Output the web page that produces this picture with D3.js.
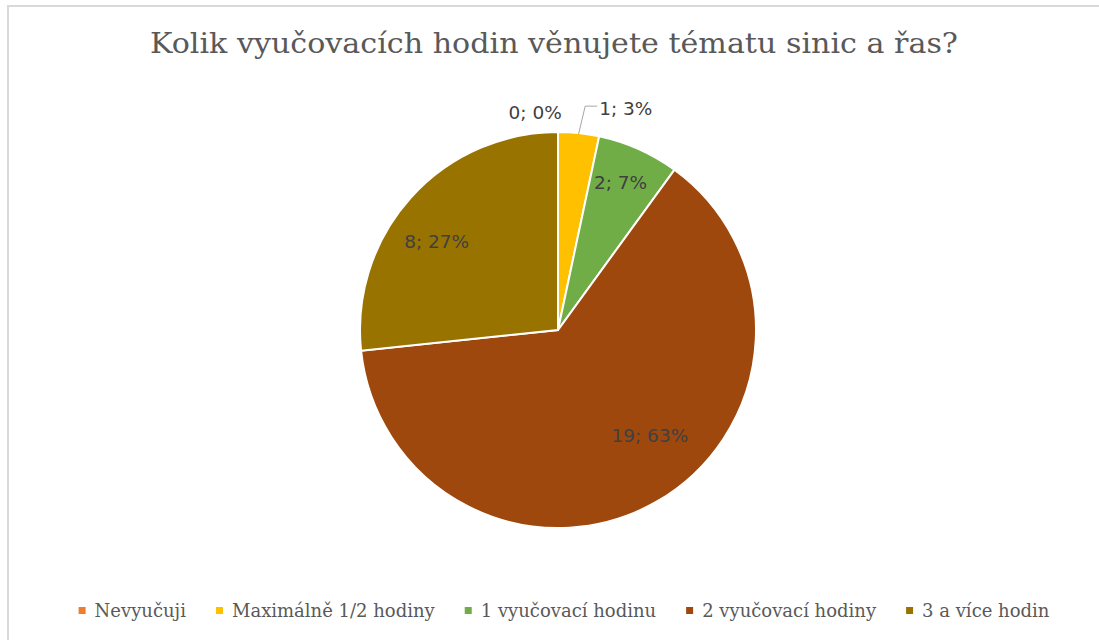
<!DOCTYPE html>
<html>
<head>
<meta charset="utf-8">
<script src="https://cdn.jsdelivr.net/npm/d3@7"></script>
<style>
  html, body { margin: 0; padding: 0; background: #fff; }
  svg { display: block; }
</style>
</head>
<body>
<div id="chart"></div>
<script>
// Data
const categories = ["Nevyučuji", "Maximálně 1/2 hodiny", "1 vyučovací hodinu", "2 vyučovací hodiny", "3 a více hodin"];
const counts = [0, 1, 2, 19, 8];
const colors = ["#ED7D31", "#FFC000", "#70AD47", "#9E480E", "#997300"];
const titleText = "Kolik vyučovacích hodin věnujete tématu sinic a řas?";

// Rozměry
const width = 1099;
const height = 640;
const cx = 558, cy = 330, radius = 198;

const total = d3.sum(counts);
const pct = d3.format(".0%");

const svg = d3.select("#chart").append("svg")
    .attr("width", width)
    .attr("height", height);

// rámeček grafu
svg.append("rect")
    .attr("x", 8).attr("y", 6)
    .attr("width", width + 10).attr("height", height + 10)
    .attr("fill", "none")
    .attr("stroke", "#d9d9d9")
    .attr("stroke-width", 2);

// titulek
svg.append("text")
    .attr("x", 554).attr("y", 53)
    .attr("text-anchor", "middle")
    .attr("font-family", "'DejaVu Serif', serif")
    .attr("font-size", 27)
    .attr("fill", "#595959")
    .attr("textLength", 808)
    .attr("lengthAdjust", "spacingAndGlyphs")
    .text(titleText);

const pie = d3.pie().sort(null).value(d => d)(counts);
const arc = d3.arc().innerRadius(0).outerRadius(radius);

const g = svg.append("g").attr("transform", `translate(${cx},${cy})`);

g.selectAll("path")
    .data(pie)
    .join("path")
    .attr("d", arc)
    .attr("fill", (d, i) => colors[i])
    .attr("stroke", "#fff")
    .attr("stroke-width", 2);

// umístění popisků: [posun úhlu ve stupních, poloměr]
const labelPlace = [[-6, 219], [11, 232], [-1, 160], [-11, 140], [-6, 150]];

function polar(angle, r) {
    return [Math.sin(angle) * r, -Math.cos(angle) * r];
}

pie.forEach((d, i) => {
    const mid = (d.startAngle + d.endAngle) / 2 + labelPlace[i][0] * Math.PI / 180;
    const [x, y] = polar(mid, labelPlace[i][1]);
    const label = `${counts[i]}; ${pct(counts[i] / total)}`;
    const t = g.append("text")
        .attr("x", x).attr("y", y)
        .attr("dy", "0.35em")
        .attr("text-anchor", "middle")
        .attr("font-family", "'DejaVu Sans', Verdana, sans-serif")
        .attr("font-size", 18.5)
        .attr("fill", "#404040")
        .text(label);
    // vodicí čára pro malou výseč
    if (i === 1) {
        const a = (d.startAngle + d.endAngle) / 2;
        const [x0, y0] = polar(a, radius - 1);
        const bbox = t.node().getBBox();
        const ex = bbox.x - 2, ey = y - 2;
        g.append("path")
            .attr("d", `M${x0},${y0}L${ex - 12},${ey}L${ex},${ey}`)
            .attr("fill", "none")
            .attr("stroke", "#a6a6a6")
            .attr("stroke-width", 1);
    }
});

// legenda
const legend = svg.append("g");
const items = legend.selectAll("g")
    .data(categories)
    .join("g");

items.append("rect")
    .attr("width", 7).attr("height", 7)
    .attr("y", -4)
    .attr("fill", (d, i) => colors[i]);

items.append("text")
    .attr("x", 16)
    .attr("dy", "0.35em")
    .attr("font-family", "'DejaVu Serif', serif")
    .attr("font-size", 18)
    .attr("fill", "#595959")
    .text(d => d);

let offset = 0;
const gap = 30;
items.each(function() {
    const w = d3.select(this).select("text").node().getComputedTextLength();
    d3.select(this).attr("data-x", offset);
    offset += 16 + w + gap;
});
const legendWidth = offset - gap;
const startX = 564 - legendWidth / 2;
items.attr("transform", function() {
    return `translate(${startX + (+this.getAttribute("data-x"))},611)`;
});
</script>
</body>
</html>
